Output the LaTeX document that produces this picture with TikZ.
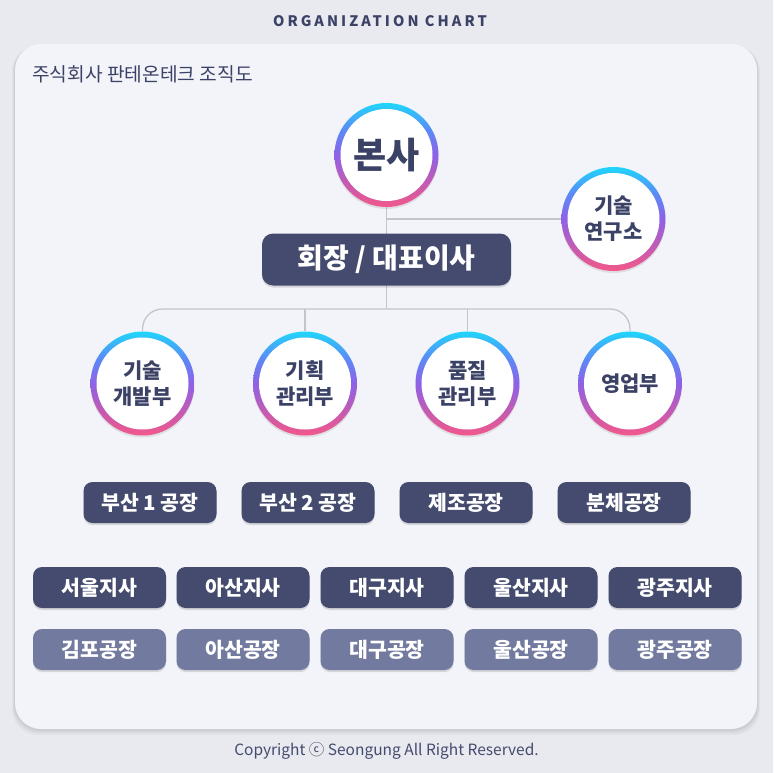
\documentclass[tikz,border=0pt]{standalone}
\usepackage{fontspec}
\setmainfont{Noto Sans CJK KR}
\newfontfamily\titlefont[LetterSpace=21]{Noto Sans CJK KR}
\usetikzlibrary{shadows}
\definecolor{bgc}{HTML}{E9EAF0}
\definecolor{cardc}{HTML}{F3F4F9}
\definecolor{inkc}{HTML}{3B4266}
\definecolor{darkbox}{HTML}{454B6E}
\definecolor{lightbox}{HTML}{737A9F}
\definecolor{linec}{HTML}{C4C5CC}
\definecolor{rpink}{HTML}{F3588A}
\definecolor{rmag}{HTML}{C65AB0}
\definecolor{rpurple}{HTML}{8E62E6}
\definecolor{rblue}{HTML}{5B8AF6}
\definecolor{rcyan}{HTML}{1FD6FB}
\pgfdeclareverticalshading{ringshade}{100bp}{color(0bp)=(rpink); color(25bp)=(rpink); color(36bp)=(rmag); color(50bp)=(rpurple); color(62bp)=(rblue); color(75bp)=(rcyan); color(100bp)=(rcyan)}
\pgfdeclarelayer{cardlayer}
\pgfdeclarelayer{linelayer}
\pgfsetlayers{cardlayer,linelayer,main}
\tikzset{
  ringnode/.style={circle, minimum size=104pt, inner sep=0pt, shade, shading=ringshade,
    drop shadow={shadow xshift=0pt, shadow yshift=-2pt, opacity=0.09, fill=black},
    path picture={\fill[white] (path picture bounding box.center) circle (46pt);},
    text=inkc, align=center, font=\bfseries\fontsize{21}{26}\selectfont},
  boxnode/.style={rounded corners=9pt, minimum width=133pt, minimum height=41pt, inner sep=0pt,
    fill=darkbox, text=white, font=\bfseries\fontsize{20.5}{24}\selectfont,
    drop shadow={shadow xshift=0pt, shadow yshift=-2pt, opacity=0.12, fill=black}},
  lightnode/.style={boxnode, fill=lightbox},
  conn/.style={draw=linec, line width=1.3pt}
}
\begin{document}
\begin{tikzpicture}[x=1pt,y=-1pt]
\useasboundingbox (0,0) rectangle (773,773);
\begin{pgfonlayer}{cardlayer}
\fill[bgc] (0,0) rectangle (773,773);
\foreach \o/\a in {6/0.03,4/0.04,2/0.05} {
  \fill[black, opacity=\a, rounded corners=26pt] (15-\o*0.5,44+\o*0.3) rectangle (757+\o*0.5,729+\o);
}
\fill[cardc, rounded corners=26pt] (15,44) rectangle (757,729);
\end{pgfonlayer}
% title
\node[text=inkc, font=\titlefont\bfseries\fontsize{14.5}{16}\selectfont] (title) at (380,21.5) {ORGANIZATION CHART};
\node[text=inkc, anchor=west, inner sep=0pt, font=\fontsize{19.2}{21}\selectfont] (sub) at (32,74) {주식회사 판테온테크 조직도};
% footer
\node[text=darkbox, font=\fontsize{15.5}{18}\selectfont] (foot) at (386.5,751) {Copyright ⓒ Seongung All Right Reserved.};

% circles
\node[ringnode, font=\bfseries\fontsize{36}{40}\selectfont] (hq) at (386.5,155) {본사};
\node[ringnode] (lab) at (613.5,219) {기술\\연구소};
\node[ringnode] (d1) at (142.5,383.5) {기술\\개발부};
\node[ringnode] (d2) at (305,383.5) {기획\\관리부};
\node[ringnode] (d3) at (467.5,383.5) {품질\\관리부};
\node[ringnode] (d4) at (630,383.5) {영업부};
% ceo box
\node[boxnode, minimum width=249pt, minimum height=52pt, rounded corners=11pt, font=\bfseries\fontsize{28}{30}\selectfont] (ceo) at (386.5,259.5) {회장 / 대표이사};

% connectors
\coordinate (j1) at (386.5,219);
\coordinate (j2) at (386.5,309);
\begin{pgfonlayer}{linelayer}
\draw[conn] (hq.south) -- (j2);
\draw[conn] (j1) -- (lab.west);
\draw[conn, rounded corners=20pt] (d1.north) |- (d4.north |- j2) -- (d4.north);
\draw[conn] (d2.north) -- (d2.north |- j2);
\draw[conn] (d3.north) -- (d3.north |- j2);
\end{pgfonlayer}

% factory row
\node[boxnode] (f1) at (150,502.5) {부산 1 공장};
\node[boxnode] (f2) at (308,502.5) {부산 2 공장};
\node[boxnode] (f3) at (466,502.5) {제조공장};
\node[boxnode] (f4) at (624,502.5) {분체공장};
% branch row
\node[boxnode] (b1) at (99.5,587.5) {서울지사};
\node[boxnode] (b2) at (243,587.5) {아산지사};
\node[boxnode] (b3) at (387,587.5) {대구지사};
\node[boxnode] (b4) at (531,587.5) {울산지사};
\node[boxnode] (b5) at (675,587.5) {광주지사};
% plant row
\node[lightnode] (p1) at (99.5,649.5) {김포공장};
\node[lightnode] (p2) at (243,649.5) {아산공장};
\node[lightnode] (p3) at (387,649.5) {대구공장};
\node[lightnode] (p4) at (531,649.5) {울산공장};
\node[lightnode] (p5) at (675,649.5) {광주공장};
\end{tikzpicture}
\end{document}
